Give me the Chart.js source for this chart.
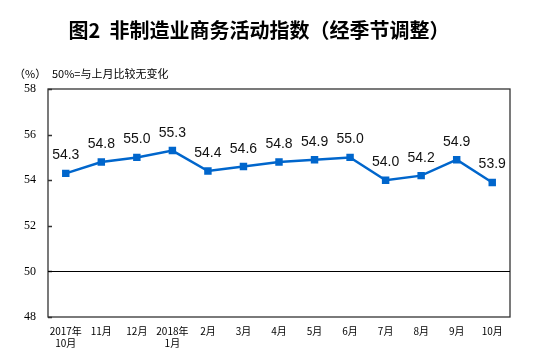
<!DOCTYPE html>
<html><head><meta charset="utf-8">
<script src="https://cdn.jsdelivr.net/npm/chart.js@4/dist/chart.umd.min.js"></script>
<style>html,body{margin:0;padding:0;background:#fff;}#wrap{position:relative;width:554px;height:361px;}</style>
</head><body><div id="wrap"><canvas id="c" width="554" height="361"></canvas></div>
<script>
const categories = [["2017年","10月"],"11月","12月",["2018年","1月"],"2月","3月","4月","5月","6月","7月","8月","9月","10月"];
const values = [54.3,54.8,55.0,55.3,54.4,54.6,54.8,54.9,55.0,54.0,54.2,54.9,53.9];
const yTicks = [48,50,52,54,56,58];
const titleText = "图2  非制造业商务活动指数（经季节调整）";
const unitText = "（%）";
const noteText = "50%=与上月比较无变化";
const refValue = 50;

const deco = {
  id:'deco',
  afterDraw(chart){
    const ctx = chart.ctx, a = chart.chartArea, y = chart.scales.y, x = chart.scales.x;
    ctx.save();
    ctx.strokeStyle = '#333'; ctx.lineWidth = 1.3;
    ctx.strokeRect(a.left, a.top, a.right-a.left, a.bottom-a.top);
    ctx.beginPath();
    yTicks.forEach(v=>{ const py = Math.round(y.getPixelForValue(v))+0.5; ctx.moveTo(a.left, py); ctx.lineTo(a.left+4, py); });
    ctx.stroke();
    ctx.strokeStyle = '#000'; ctx.lineWidth = 1;
    const ry = Math.round(y.getPixelForValue(refValue))+0.5;
    ctx.beginPath(); ctx.moveTo(a.left, ry); ctx.lineTo(a.right, ry); ctx.stroke();
    ctx.fillStyle = '#111'; ctx.font = '14px "Liberation Sans", Arial, sans-serif';
    ctx.textAlign = 'center'; ctx.textBaseline = 'alphabetic';
    values.forEach((v,i)=>{ const px = x.getPixelForValue(i), py = y.getPixelForValue(v); ctx.fillText(v.toFixed(1), px, py-14); });
    ctx.font = 'bold 20px "Noto Sans CJK SC", sans-serif';
    ctx.fillStyle = '#000';
    ctx.fillText(titleText, 259, 38);
    ctx.font = '11px "Noto Sans CJK SC", sans-serif';
    ctx.textAlign = 'left';
    ctx.fillText(unitText, 14, 78);
    ctx.fillText(noteText, 52, 78);
    ctx.restore();
  }
};

new Chart(document.getElementById('c'), {
  type:'line',
  data:{ labels:categories, datasets:[{ data:values, borderColor:'#0066CC', backgroundColor:'#0066CC', borderWidth:2.5, pointStyle:'rect', pointRadius:3.5, pointHoverRadius:3.5, tension:0 }]},
  options:{
    responsive:false, animation:false,
    layout:{ padding:{ top:89, right:44, left:0, bottom:0 } },
    plugins:{ legend:{display:false}, tooltip:{enabled:false}, title:{display:false} },
    scales:{
      x:{ offset:true, grid:{display:false, drawTicks:false}, border:{display:false},
          ticks:{ color:'#000', font:{ family:'"Noto Sans CJK SC", sans-serif', size:10, lineHeight:1.2 }, padding:8, maxRotation:0, autoSkip:false },
          afterFit(s){ s.height = 44; } },
      y:{ min:48, max:58, grid:{display:false, drawTicks:false}, border:{display:false},
          afterBuildTicks(s){ s.ticks = yTicks.map(v=>({value:v})); },
          ticks:{ color:'#000', font:{ family:'"Liberation Serif", serif', size:12 }, padding:12 },
          afterFit(s){ s.width = 48; } }
    }
  },
  plugins:[deco]
});
</script></body></html>
